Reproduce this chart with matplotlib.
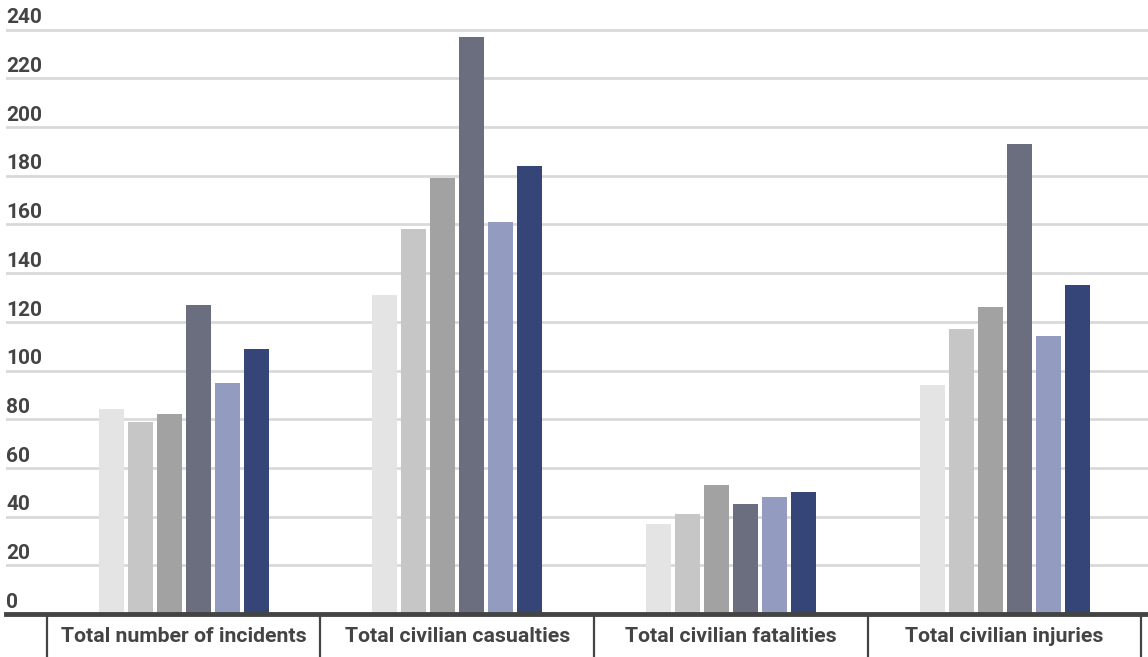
import numpy as np
import matplotlib
matplotlib.use("Agg")
import matplotlib.pyplot as plt
import matplotlib.transforms as mtransforms

plt.rcParams["font.family"] = ["Roboto", "DejaVu Sans"]

categories = [
    "Total number of incidents",
    "Total civilian casualties",
    "Total civilian fatalities",
    "Total civilian injuries",
]

# one list per series, one value per category
series_1 = [84, 131, 37, 94]
series_2 = [79, 158, 41, 117]
series_3 = [82, 179, 53, 126]
series_4 = [127, 237, 45, 193]
series_5 = [95, 161, 48, 114]
series_6 = [109, 184, 50, 135]
all_series = [series_1, series_2, series_3, series_4, series_5, series_6]

y_ticks = list(range(0, 241, 20))

colors = ["#e4e4e4", "#c6c6c6", "#a2a2a2", "#6b6e7e", "#939bc1", "#354577"]
text_color = "#444444"

W, H = 1148, 657
fig = plt.figure(figsize=(W / 100, H / 100), dpi=100)

left_px, right_px, zero_px = 6, 1148, 614
ax = fig.add_axes([left_px / W, (H - zero_px) / H, (right_px - left_px) / W, zero_px / H])

px_per_cat = 273.7
ax.set_xlim((left_px - 183.5) / px_per_cat, (right_px - 183.5) / px_per_cat)
ax.set_ylim(0, zero_px / 2.435)

x = np.arange(len(categories))
bar_w = 25 / px_per_cat
pitch = 29 / px_per_cat
n = len(all_series)
for i, vals in enumerate(all_series):
    offs = (i - (n - 1) / 2) * pitch
    ax.bar(x + offs, vals, width=bar_w, color=colors[i], zorder=3)

# gridlines with labels sitting on top of them
for t in y_ticks:
    if t > 0:
        ax.axhline(t, color="#d9d9d9", lw=2, zorder=1)
    ax.annotate(str(t), xy=(0, t), xycoords=("axes fraction", "data"),
                xytext=(0, 4.5), textcoords="offset points",
                ha="left", va="baseline", fontsize=15, fontweight="bold",
                color=text_color)

ax.axhline(0, color=text_color, lw=3.5, zorder=4, clip_on=False)

for s in ax.spines.values():
    s.set_visible(False)
ax.set_xticks([])
ax.set_yticks([])

# category cells under the axis
trans = mtransforms.blended_transform_factory(ax.transData, fig.transFigure)
y_top = (H - 616) / H
for b in np.arange(len(categories) + 1) - 0.5:
    fig.add_artist(plt.Line2D([b, b], [0, y_top], transform=trans,
                              color=text_color, lw=1.6))
for xi, cat in zip(x, categories):
    fig.text(xi, (H - 642.5) / H, cat, transform=trans, ha="center", va="baseline",
             fontsize=15.3, fontweight="bold", color=text_color)

fig.savefig("out.png", dpi=100)
